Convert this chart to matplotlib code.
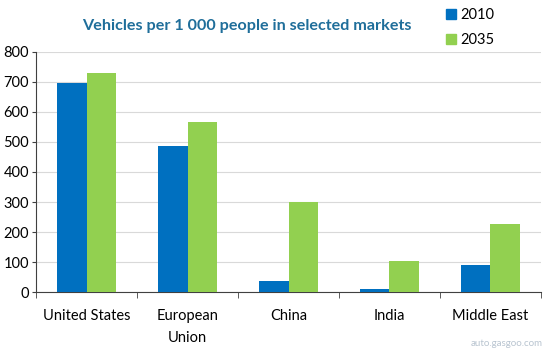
import numpy as np
import matplotlib.pyplot as plt
from matplotlib.patches import Patch

categories = ['United States', 'European\nUnion', 'China', 'India', 'Middle East']
v2010 = [697, 485, 37, 10, 90]
v2035 = [731, 565, 300, 103, 227]
years = ['2010', '2035']

blue = '#0070C0'
green = '#92D050'

plt.rcParams['font.family'] = ['Lato', 'DejaVu Sans']

fig = plt.figure(figsize=(5.48, 3.55), dpi=100)
ax = fig.add_axes([0.066, 0.177, 0.921, 0.677])

x = np.arange(len(categories))
w = 0.29
ax.bar(x - w / 2, v2010, w, color=blue, zorder=3)
ax.bar(x + w / 2, v2035, w, color=green, zorder=3)

ax.set_xlim(-0.5, len(categories) - 0.5)
ax.set_ylim(0, 800)
ax.set_yticks(range(0, 801, 100))
ax.yaxis.grid(True, color='#d9d9d9', linewidth=0.8, zorder=0)
ax.tick_params(axis='y', labelsize=10.5, length=3, color='#404040', pad=2)

ax.set_xticks(x)
ax.set_xticklabels(categories, fontsize=10.5, linespacing=1.7)
ax.tick_params(axis='x', length=0, pad=12)
ax.set_xticks(np.arange(-0.5, len(categories), 1), minor=True)
ax.tick_params(axis='x', which='minor', length=4, color='#404040')

for s in ['top', 'right']:
    ax.spines[s].set_visible(False)
for s in ['left', 'bottom']:
    ax.spines[s].set_color('#404040')
    ax.spines[s].set_linewidth(0.8)

fig.text(0.45, 0.928, 'Vehicles per 1 000 people in selected markets',
         ha='center', va='center', fontsize=11.6, fontweight='bold', color='#1F6E9A')

handles = [Patch(color=blue), Patch(color=green)]
fig.legend(handles, years, loc='upper left', bbox_to_anchor=(0.79, 1.015),
           frameon=False, fontsize=10.5, handlelength=0.7, handleheight=0.7,
           handletextpad=0.3, labelspacing=0.75)

fig.text(0.99, 0.02, 'auto.gasgoo.com', ha='right', va='bottom',
         fontsize=7, color='#b8c4d0')

fig.savefig('out.png', dpi=100)
